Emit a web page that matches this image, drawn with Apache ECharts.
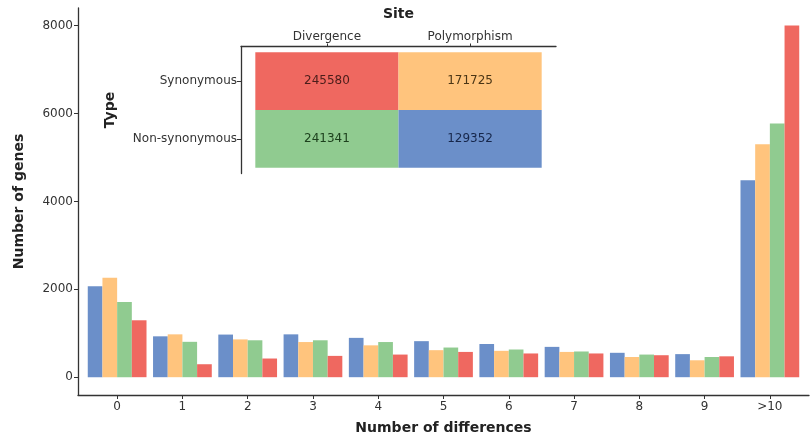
<!DOCTYPE html>
<html>
<head>
<meta charset="utf-8">
<script src="https://cdn.jsdelivr.net/npm/echarts@6/dist/echarts.min.js"></script>
<style>html,body{margin:0;padding:0;background:#fff}#c{width:810px;height:441px}</style>
</head>
<body>
<div id="c"></div>
<script>
const categories = ['0','1','2','3','4','5','6','7','8','9','>10'];
const yTicks = [0, 2000, 4000, 6000, 8000];
const seriesNames = ['Pn', 'Ps', 'Dn', 'Ds'];
const blueVals   = [2070, 930, 970, 975, 895, 820, 755, 690, 555, 525, 4480];
const orangeVals = [2265, 975, 860, 800, 725, 615, 600, 575, 460, 385, 5300];
const greenVals  = [1710, 805, 840, 840, 800, 675, 630, 585, 515, 460, 5770];
const redVals    = [1295, 295, 425, 485, 515, 575, 540, 540, 500, 475, 8000];
const sites = ['Divergence', 'Polymorphism'];
const types = ['Synonymous', 'Non-synonymous'];
const synCounts = [245580, 171725];
const nonSynCounts = [241341, 129352];

const colors = ['#6B8FC9', '#FFC47D', '#90CB90', '#EF6860'];
const textColors = { '#EF6860': '#4a1d1a', '#FFC47D': '#4a3515', '#90CB90': '#1d401d', '#6B8FC9': '#16264a' };
const font = 'DejaVu Sans, Liberation Sans, sans-serif';
const axisCol = '#333';

const cellColors = [[colors[3], colors[1]], [colors[2], colors[0]]];
const heatData = [];
[synCounts, nonSynCounts].forEach((row, ti) => {
  row.forEach((v, si) => heatData.push([si + 1, ti + 1, v, cellColors[ti][si]]));
});

const chart = echarts.init(document.getElementById('c'), null, { renderer: 'canvas' });
const valSets = [blueVals, orangeVals, greenVals, redVals];

chart.setOption({
  animation: false,
  backgroundColor: '#fff',
  textStyle: { fontFamily: font },
  grid: [
    { left: 78, top: 8, width: 731, height: 387 },
    { left: 84.5, top: 8, width: 718, height: 387 },
    { left: 241, top: 46.5, width: 315, height: 127 }
  ],
  xAxis: [
    {
      gridIndex: 0, type: 'value', min: -0.6, max: 10.6,
      axisLine: { show: true, onZero: false, lineStyle: { color: axisCol, width: 1.3 } },
      axisTick: { show: true, customValues: categories.map((c, i) => i), length: 4, lineStyle: { color: axisCol } },
      axisLabel: { customValues: categories.map((c, i) => i), formatter: v => categories[Math.round(v)], fontSize: 12, color: '#333', margin: 6, fontFamily: font },
      splitLine: { show: false },
      name: 'Number of differences', nameLocation: 'middle', nameGap: 26,
      nameTextStyle: { fontSize: 14, fontWeight: 'bold', color: '#222', fontFamily: font }
    },
    { gridIndex: 1, type: 'category', data: categories, show: false },
    {
      gridIndex: 2, type: 'value', position: 'top', min: 0.4, max: 2.6,
      axisLine: { show: true, onZero: false, lineStyle: { color: axisCol, width: 1.3 } },
      axisTick: { show: true, customValues: [1, 2], length: 3, lineStyle: { color: axisCol } },
      axisLabel: { customValues: [1, 2], formatter: v => sites[Math.round(v) - 1], fontSize: 12, color: '#333', margin: 4, fontFamily: font },
      splitLine: { show: false },
      name: 'Site', nameLocation: 'middle', nameGap: 25,
      nameTextStyle: { fontSize: 14, fontWeight: 'bold', color: '#222', fontFamily: font }
    }
  ],
  yAxis: [
    {
      gridIndex: 0, type: 'value', min: -405, max: 8400,
      axisLine: { show: true, onZero: false, lineStyle: { color: axisCol, width: 1.3 } },
      axisTick: { show: true, customValues: yTicks, length: 4, lineStyle: { color: axisCol } },
      axisLabel: { customValues: yTicks, formatter: v => String(v), fontSize: 12, color: '#333', margin: 5, fontFamily: font },
      splitLine: { show: false },
      name: 'Number of genes', nameLocation: 'middle', nameGap: 52,
      nameTextStyle: { fontSize: 14, fontWeight: 'bold', color: '#222', fontFamily: font }
    },
    { gridIndex: 1, type: 'value', min: -405, max: 8400, show: false },
    {
      gridIndex: 2, type: 'value', min: 0.4, max: 2.6, inverse: true,
      axisLine: { show: true, onZero: false, lineStyle: { color: axisCol, width: 1.3 } },
      axisTick: { show: true, customValues: [1, 2], length: 4, lineStyle: { color: axisCol } },
      axisLabel: { customValues: [1, 2], formatter: v => types[Math.round(v) - 1], fontSize: 12, color: '#333', margin: 4, fontFamily: font },
      splitLine: { show: false },
      name: 'Type', nameLocation: 'middle', nameGap: 124,
      nameTextStyle: { fontSize: 14, fontWeight: 'bold', color: '#222', fontFamily: font }
    }
  ],
  series: valSets.map((vals, i) => ({
    name: seriesNames[i], type: 'bar', xAxisIndex: 1, yAxisIndex: 1,
    data: vals, barGap: '0%', barCategoryGap: '10%',
    itemStyle: { color: colors[i] }
  })).concat([{
    type: 'custom', xAxisIndex: 2, yAxisIndex: 2, data: heatData,
    renderItem: function (params, api) {
      const x = api.value(0), y = api.value(1);
      const p0 = api.coord([x - 0.5, y - 0.5]);
      const p1 = api.coord([x + 0.5, y + 0.5]);
      const rx = Math.min(p0[0], p1[0]), ry = Math.min(p0[1], p1[1]);
      const w = Math.abs(p1[0] - p0[0]), h = Math.abs(p1[1] - p0[1]);
      const col = heatData[params.dataIndex][3];
      return {
        type: 'group',
        children: [
          { type: 'rect', shape: { x: rx, y: ry, width: w, height: h }, style: { fill: col } },
          { type: 'text', style: { x: rx + w / 2, y: ry + h / 2, text: String(api.value(2)), align: 'center', verticalAlign: 'middle', fill: textColors[col], font: '12px ' + font } }
        ]
      };
    }
  }])
});
</script>
</body>
</html>
